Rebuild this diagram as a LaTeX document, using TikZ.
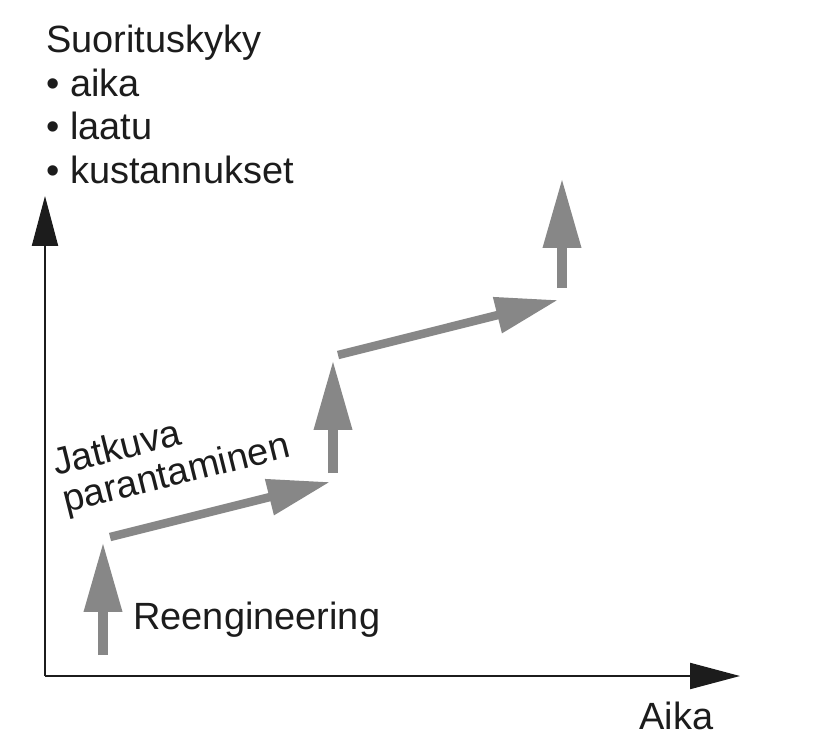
\documentclass[tikz,border=0pt]{standalone}
\usepackage{fontspec}
\setmainfont{Liberation Sans}
\usepackage{tikz}
\usetikzlibrary{arrows.meta}
\definecolor{ink}{HTML}{1C1C1C}
\definecolor{stepgray}{HTML}{878787}
\tikzset{
  axisline/.style={
    -{Triangle[length=1.0cm, width=0.52cm]}, line width=1.2pt, color=ink
  },
  jumparrow/.style={
    -{Triangle[length=1.4cm, width=0.72cm]}, line width=0.2cm, color=stepgray
  },
  slopearrow/.style={
    -{Triangle[length=1.25cm, width=0.7cm]}, line width=0.17cm, color=stepgray
  },
  labeltext/.style={
    font=\fontsize{21.6pt}{24.7pt}\selectfont, text=ink, inner sep=0pt
  },
}

\begin{document}
\begin{tikzpicture}[x=0.02cm, y=-0.02cm]
  \useasboundingbox (0,0) rectangle (820,753);
  % axes
  \coordinate (origin) at (45,676);
  \coordinate (ytop) at (45,196);
  \coordinate (xend) at (740,676);
  \draw[axisline] (origin) -- (ytop);
  \draw[axisline] (origin) -- (xend);
  % step path
  \coordinate (r1a) at (103,655);
  \coordinate (r1b) at (103,542);
  \coordinate (c1a) at (110,537);
  \coordinate (c1b) at (330,482);
  \coordinate (r2a) at (333,473);
  \coordinate (r2b) at (333,360);
  \coordinate (c2a) at (338,355);
  \coordinate (c2b) at (558,300);
  \coordinate (r3a) at (562,288);
  \coordinate (r3b) at (562,178);
  \draw[jumparrow] (r1a) -- (r1b);
  \draw[slopearrow] (c1a) -- (c1b);
  \draw[jumparrow] (r2a) -- (r2b);
  \draw[slopearrow] (c2a) -- (c2b);
  \draw[jumparrow] (r3a) -- (r3b);
  % labels (base of a multi-line node is its last line)
  \node[labeltext, anchor=base west, align=left] (perf) at (46,183)
    {Suorituskyky\\• aika\\• laatu\\• kustannukset};
  \node[labeltext, anchor=base west] (reeng) at (133,629) {Reengineering};
  \node[labeltext, anchor=base west] (time) at (639,729) {Aika};
  \node[labeltext, anchor=base west, rotate=14] (jatk) at (56,476) {Jatkuva};
  \node[labeltext, anchor=base west, rotate=14] (parant) at (66,513) {parantaminen};
\end{tikzpicture}
\end{document}
